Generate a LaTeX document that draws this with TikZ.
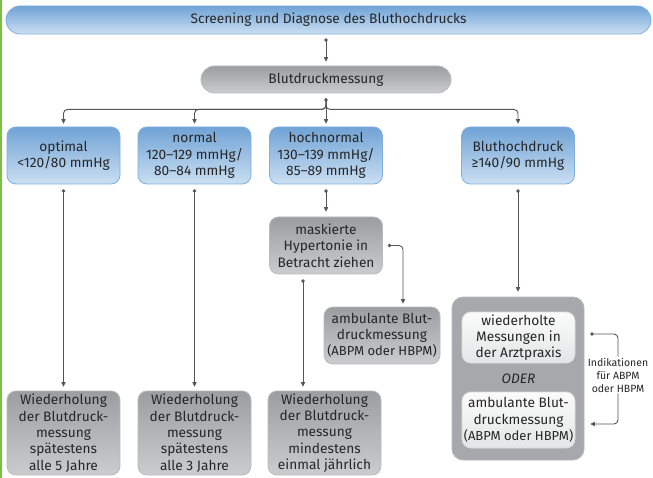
\documentclass[tikz,border=0pt]{standalone}
\usepackage{fontspec}
\setmainfont{Fira Sans}
\usetikzlibrary{arrows.meta}

\definecolor{txt}{HTML}{262626}
\definecolor{wire}{HTML}{555555}
\definecolor{blueTop}{HTML}{70A3D6}
\definecolor{blueBot}{HTML}{CBDFF2}
\definecolor{blueEdge}{HTML}{7FAFDD}
\definecolor{grayTop}{HTML}{9B9DA0}
\definecolor{grayBot}{HTML}{CBCCCE}
\definecolor{grayEdge}{HTML}{B8BABC}
\definecolor{frameGray}{HTML}{A6A8AB}
\definecolor{paleTop}{HTML}{FBFBFB}
\definecolor{paleBot}{HTML}{E4E5E6}
\definecolor{leaf}{HTML}{7AC143}

\tikzset{
  base/.style={rounded corners=9pt, draw, line width=0.8pt, align=center,
    text=txt, inner sep=0pt, font=\fontsize{13.7}{16.3}\selectfont},
  bluebox/.style={base, draw=blueEdge, top color=blueTop, bottom color=blueBot},
  graybox/.style={base, draw=grayEdge, top color=grayTop, bottom color=grayBot},
  palebox/.style={base, draw=grayEdge!50, top color=paleTop, bottom color=paleBot},
  framebox/.style={rounded corners=11pt, draw=grayEdge, line width=0.8pt,
    fill=frameGray, inner sep=0pt},
  conn/.style={draw=wire, line width=0.9pt,
    {Circle[length=3.4pt]}-{Triangle[length=4.5pt,width=4.2pt]}},
  arr/.style={draw=wire, line width=0.9pt, -{Triangle[length=4.5pt,width=4.2pt]}},
  dotline/.style={draw=wire, line width=0.9pt, {Circle[length=3.4pt]}-},
}

\begin{document}
\begin{tikzpicture}[x=1pt,y=-1pt]
\useasboundingbox (0,0) rectangle (653,478);
\fill[white] (0,0) rectangle (653,478);
\fill[leaf] (0,0) rectangle (1.8,478);

% header and first measurement
\node[bluebox, rounded corners=14pt, minimum width=645pt, minimum height=28pt]
  (top) at (328.5,20) {Screening und Diagnose des Bluthochdrucks};
\node[graybox, rounded corners=13.5pt, minimum width=250pt, minimum height=27pt]
  (bdm) at (326,79.5) {Blutdruckmessung};

% categories
\tikzset{cat/.style={bluebox, minimum width=113pt, minimum height=57pt}}
\node[cat] (opt)  at (63.5,155.5)  {optimal\\<120/80 mmHg};
\node[cat] (norm) at (194.5,155.5) {normal\\120–129 mmHg/\\80–84 mmHg};
\node[cat] (hn)   at (326,155.5)   {hochnormal\\130–139 mmHg/\\85–89 mmHg};
\node[cat] (bh)   at (518,155.5)   {Bluthochdruck\\≥140/90 mmHg};

% high-normal branch
\node[graybox, minimum width=113pt, minimum height=57pt] (mask) at (326,245.5)
  {maskierte\\Hypertonie in\\Betracht ziehen};
\node[graybox, minimum width=116pt, minimum height=57pt] (amb1) at (382,335.5)
  {ambulante Blut-\\druckmessung\\{\fontsize{13}{16.3}\selectfont(ABPM oder HBPM)}};

% follow-up intervals
\tikzset{rep/.style={graybox, minimum width=113pt, minimum height=84pt}}
\node[rep] (w1) at (63.5,433)  {Wiederholung\\der Blutdruck-\\messung\\spätestens\\alle 5 Jahre};
\node[rep] (w2) at (194.5,433) {Wiederholung\\der Blutdruck-\\messung\\spätestens\\alle 3 Jahre};
\node[rep] (w3) at (324.5,433) {Wiederholung\\der Blutdruck-\\messung\\mindestens\\einmal jährlich};

% hypertension confirmation
\node[framebox, minimum width=132pt, minimum height=163pt] (cont) at (518,378.5) {};
\node[palebox, minimum width=113pt, minimum height=51pt] (wdh) at (518.5,337.5)
  {wiederholte\\Messungen in\\der Arztpraxis};
\node[text=txt, font=\fontsize{13.7}{16.3}\selectfont\itshape] (oder) at (518.5,379) {ODER};
\node[palebox, minimum width=113pt, minimum height=56pt] (amb2) at (518.5,420)
  {ambulante Blut-\\druckmessung\\{\fontsize{13}{16.3}\selectfont(ABPM oder HBPM)}};
\node[text=txt, align=center, inner sep=1pt, font=\fontsize{10.5}{13}\selectfont]
  (ind) at (618,375) {Indikationen\\für ABPM\\oder HBPM};

% connectors
\draw[conn] ([yshift=-4pt]top.south -| bdm.north) -- ([yshift=4pt]bdm.north);
\coordinate (split) at ([yshift=-5pt]bdm.south);
\draw[arr, rounded corners=4pt] (split) -- ++(0,11) -| ([yshift=3pt]opt.north);
\draw[arr, rounded corners=4pt] (split) -- ++(0,11) -| ([yshift=3pt]norm.north);
\draw[arr, rounded corners=4pt] (split) -- ++(0,11) -| ([yshift=3pt]bh.north);
\draw[conn] (split) -- ([yshift=3pt]hn.north);

\draw[conn] ([yshift=-5pt]opt.south)  -- ([yshift=4pt]w1.north);
\draw[conn] ([yshift=-5pt]norm.south) -- ([yshift=4pt]w2.north);
\draw[conn] ([yshift=-5pt]hn.south)   -- ([yshift=5pt]mask.north);
\draw[conn, rounded corners=4pt] ([xshift=5pt]mask.east) -| ([xshift=21pt,yshift=3pt]amb1.north);
\draw[conn] ([xshift=-23pt,yshift=-5pt]mask.south) -- ([xshift=-21.5pt,yshift=4pt]w3.north);
\draw[conn] ([yshift=-5pt]bh.south) -- ([yshift=5pt]cont.north);

\draw[dotline, rounded corners=4pt] ([xshift=6pt,yshift=3.5pt]cont.east |- wdh.east) -| (ind.north);
\draw[arr, rounded corners=4pt] (ind.south) |- ([xshift=6pt,yshift=-4pt]cont.east |- amb2.east);
\end{tikzpicture}
\end{document}
